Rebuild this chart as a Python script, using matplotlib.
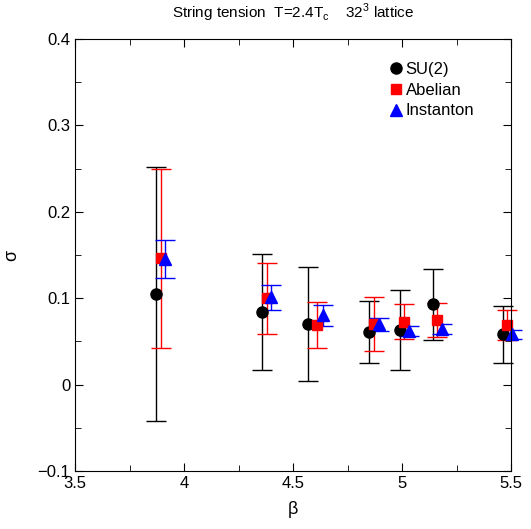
import numpy as np
import matplotlib
matplotlib.use("Agg")
import matplotlib.pyplot as plt
from matplotlib.ticker import MultipleLocator, FuncFormatter
from matplotlib.lines import Line2D

plt.rcParams['font.family'] = ['Liberation Sans', 'DejaVu Sans']
plt.rcParams['mathtext.fontset'] = 'custom'
plt.rcParams['mathtext.rm'] = 'Liberation Sans'

# datos
beta_su2 = [3.87, 4.36, 4.57, 4.85, 4.99, 5.14, 5.465]
sig_su2 = [0.105, 0.084, 0.070, 0.061, 0.063, 0.093, 0.058]
err_su2 = [0.147, 0.067, 0.066, 0.036, 0.046, 0.041, 0.033]

beta_ab = [3.893, 4.38, 4.61, 4.87, 5.01, 5.159, 5.483]
sig_ab = [0.146, 0.100, 0.069, 0.070, 0.073, 0.075, 0.069]
err_ab = [0.104, 0.041, 0.027, 0.031, 0.020, 0.020, 0.017]

beta_in = [3.914, 4.40, 4.636, 4.893, 5.033, 5.182, 5.505]
sig_in = [0.145, 0.101, 0.080, 0.070, 0.062, 0.064, 0.058]
err_in = [0.022, 0.0145, 0.0125, 0.0075, 0.006, 0.006, 0.005]

fig = plt.figure(figsize=(5.31, 5.29), dpi=100)
ax = fig.add_axes([75/531, 58/529, 436/531, 432/529])

ax.errorbar(beta_su2, sig_su2, yerr=err_su2, fmt='o', color='black', ms=8,
            capsize=7, elinewidth=1, capthick=1, clip_on=False)
ax.errorbar(beta_ab, sig_ab, yerr=err_ab, fmt='s', color='red', ms=6.5,
            capsize=7, elinewidth=1, capthick=1, clip_on=False)
ax.errorbar(beta_in, sig_in, yerr=err_in, fmt='^', color='blue', ms=8,
            capsize=7, elinewidth=1, capthick=1, clip_on=False)

ax.set_xlim(3.5, 5.5)
ax.set_ylim(-0.1, 0.4)
ax.xaxis.set_major_locator(MultipleLocator(0.5))
ax.xaxis.set_minor_locator(MultipleLocator(0.25))
ax.yaxis.set_major_locator(MultipleLocator(0.1))
ax.yaxis.set_minor_locator(MultipleLocator(0.05))
fmt = FuncFormatter(lambda v, p: ('%g' % round(v, 6)).replace('-', '\u2212'))
ax.xaxis.set_major_formatter(fmt)
ax.yaxis.set_major_formatter(fmt)
ax.tick_params(which='both', direction='in', top=True, right=True, labelsize=12)
ax.tick_params(which='major', length=6)
ax.tick_params(which='minor', length=4)

ax.set_xlabel('β', fontsize=13, labelpad=7)
ax.set_ylabel('σ', fontsize=13, labelpad=12)
ax.set_title(r'String tension  T=2.4T$_{\rm c}$    32$^{3}$ lattice', fontsize=11, pad=15)

handles = [Line2D([], [], ls='none', marker='o', color='black', ms=8),
           Line2D([], [], ls='none', marker='s', color='red', ms=6.5),
           Line2D([], [], ls='none', marker='^', color='blue', ms=8)]
ax.legend(handles, ['SU(2)', 'Abelian', 'Instanton'], loc='upper right',
          bbox_to_anchor=(0.95, 0.982), frameon=False, fontsize=12,
          handlelength=0.8, handletextpad=0.2, labelspacing=0.35)

fig.savefig('out.png', dpi=100)
